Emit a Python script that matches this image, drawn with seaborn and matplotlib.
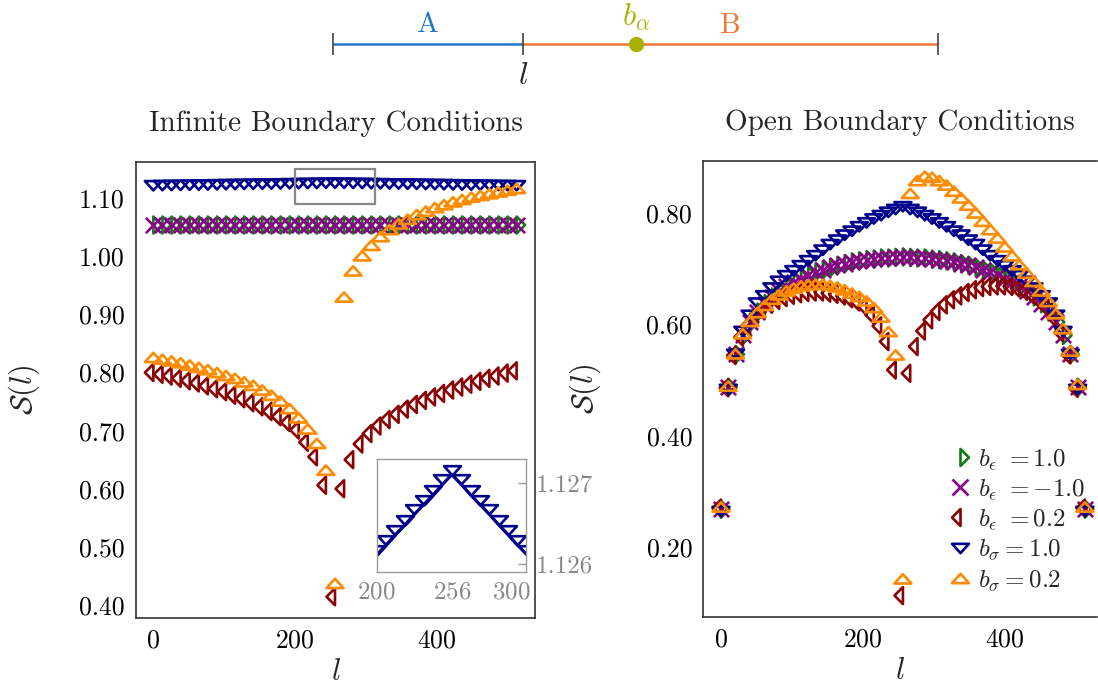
import matplotlib
matplotlib.use("Agg")
import matplotlib.pyplot as plt
from matplotlib.path import Path
from matplotlib.lines import Line2D
from matplotlib.patches import Rectangle
from matplotlib.ticker import FormatStrFormatter
import seaborn as sns

sns.set_theme(style="white")
plt.rcParams.update({
    "font.family": "serif",
    "font.serif": ["cmr10"],
    "mathtext.fontset": "cm",
    "axes.formatter.use_mathtext": True,
    "axes.unicode_minus": False,
})

# ---------------- data: infinite boundary conditions ----------------
l_inf = [0.0, 12.8, 25.6, 38.4, 51.2, 64.0, 76.8, 89.6, 102.4, 115.2, 128.0,
         140.8, 153.6, 166.4, 179.2, 192.0, 204.8, 217.6, 230.4, 243.2, 256.0,
         268.8, 281.6, 294.4, 307.2, 320.0, 332.8, 345.6, 358.4, 371.2, 384.0,
         396.8, 409.6, 422.4, 435.2, 448.0, 460.8, 473.6, 486.4, 499.2, 512.0]

eps_p1_inf = [1.054, 1.054, 1.054, 1.054, 1.054, 1.054, 1.054, 1.054, 1.054, 1.054, 1.054,
              1.054, 1.054, 1.054, 1.054, 1.054, 1.054, 1.054, 1.054, 1.054, 1.054,
              1.054, 1.054, 1.054, 1.054, 1.054, 1.054, 1.054, 1.054, 1.054, 1.054,
              1.054, 1.054, 1.054, 1.054, 1.054, 1.054, 1.054, 1.054, 1.054, 1.054]
eps_m1_inf = [1.054, 1.054, 1.054, 1.054, 1.054, 1.054, 1.054, 1.054, 1.054, 1.054, 1.054,
              1.054, 1.054, 1.054, 1.054, 1.054, 1.054, 1.054, 1.054, 1.054, 1.054,
              1.054, 1.054, 1.054, 1.054, 1.054, 1.054, 1.054, 1.054, 1.054, 1.054,
              1.054, 1.054, 1.054, 1.054, 1.054, 1.054, 1.054, 1.054, 1.054, 1.054]
eps_02_inf = [0.800, 0.797, 0.794, 0.790, 0.786, 0.782, 0.777, 0.772, 0.767, 0.761, 0.755,
              0.748, 0.741, 0.733, 0.724, 0.714, 0.701, 0.680, 0.655, 0.606, 0.414,
              0.600, 0.650, 0.677, 0.695, 0.708, 0.719, 0.728, 0.737, 0.745, 0.752,
              0.758, 0.764, 0.770, 0.775, 0.780, 0.785, 0.790, 0.794, 0.799, 0.803]
sig_1_inf = [1.1216, 1.1218, 1.1220, 1.1222, 1.1225, 1.1227, 1.1229, 1.1232, 1.1234, 1.1236, 1.1238,
             1.1241, 1.1243, 1.1245, 1.1247, 1.1250, 1.1252, 1.1254, 1.1256, 1.1259, 1.1261,
             1.1259, 1.1256, 1.1254, 1.1252, 1.1250, 1.1247, 1.1245, 1.1243, 1.1241, 1.1238,
             1.1236, 1.1234, 1.1232, 1.1229, 1.1227, 1.1225, 1.1222, 1.1220, 1.1218, 1.1216]
sig_02_inf = [0.826, 0.823, 0.820, 0.817, 0.813, 0.809, 0.805, 0.800, 0.795, 0.790, 0.784,
              0.778, 0.770, 0.761, 0.751, 0.738, 0.722, 0.703, 0.678, 0.632, 0.437,
              0.930, 0.975, 1.001, 1.019, 1.034, 1.046, 1.056, 1.064, 1.072, 1.078,
              1.084, 1.089, 1.094, 1.098, 1.102, 1.105, 1.108, 1.111, 1.114, 1.117]

# zoomed window around the defect (inset)
l_zoom = [200, 207, 214, 221, 228, 235, 242, 249, 256,
          263, 270, 277, 284, 291, 298, 305, 312]
sig_1_zoom = [1.12611, 1.12623, 1.12636, 1.12648, 1.12661, 1.12673, 1.12685, 1.12698, 1.12710,
              1.12698, 1.12685, 1.12673, 1.12661, 1.12648, 1.12636, 1.12623, 1.12611]

# ---------------- data: open boundary conditions ----------------
l_obc = [0.0, 10.24, 20.48, 30.72, 40.96, 51.2, 61.44, 71.68, 81.92, 92.16, 102.4,
         112.64, 122.88, 133.12, 143.36, 153.6, 163.84, 174.08, 184.32, 194.56, 204.8,
         215.04, 225.28, 235.52, 245.76, 256.0, 266.24, 276.48, 286.72, 296.96, 307.2,
         317.44, 327.68, 337.92, 348.16, 358.4, 368.64, 378.88, 389.12, 399.36, 409.6,
         419.84, 430.08, 440.32, 450.56, 460.8, 471.04, 481.28, 491.52, 501.76, 512.0]

eps_p1_obc = [0.268, 0.487, 0.546, 0.580, 0.604, 0.622, 0.637, 0.649, 0.659, 0.668, 0.676,
              0.682, 0.688, 0.694, 0.698, 0.702, 0.706, 0.709, 0.712, 0.714, 0.716,
              0.717, 0.719, 0.719, 0.720, 0.721, 0.720, 0.719, 0.719, 0.717, 0.716,
              0.714, 0.712, 0.709, 0.706, 0.702, 0.698, 0.694, 0.688, 0.682, 0.676,
              0.668, 0.659, 0.649, 0.637, 0.622, 0.604, 0.580, 0.546, 0.487, 0.268]
eps_m1_obc = [0.268, 0.487, 0.546, 0.580, 0.604, 0.622, 0.637, 0.649, 0.659, 0.668, 0.676,
              0.682, 0.688, 0.694, 0.698, 0.702, 0.706, 0.709, 0.712, 0.714, 0.716,
              0.717, 0.719, 0.719, 0.720, 0.721, 0.720, 0.719, 0.719, 0.717, 0.716,
              0.714, 0.712, 0.709, 0.706, 0.702, 0.698, 0.694, 0.688, 0.682, 0.676,
              0.668, 0.659, 0.649, 0.637, 0.622, 0.604, 0.580, 0.546, 0.487, 0.268]
eps_02_obc = [0.270, 0.486, 0.544, 0.577, 0.598, 0.614, 0.626, 0.636, 0.643, 0.648, 0.652,
              0.655, 0.657, 0.658, 0.658, 0.656, 0.654, 0.651, 0.646, 0.640, 0.632,
              0.617, 0.597, 0.569, 0.518, 0.113, 0.512, 0.560, 0.588, 0.608, 0.623,
              0.635, 0.644, 0.651, 0.657, 0.662, 0.666, 0.668, 0.669, 0.669, 0.668,
              0.665, 0.660, 0.653, 0.643, 0.630, 0.612, 0.585, 0.545, 0.485, 0.270]
sig_1_obc = [0.264, 0.483, 0.546, 0.587, 0.616, 0.638, 0.651, 0.665, 0.677, 0.687, 0.696,
             0.705, 0.714, 0.723, 0.733, 0.743, 0.751, 0.760, 0.767, 0.775, 0.782,
             0.789, 0.795, 0.801, 0.806, 0.811, 0.806, 0.801, 0.795, 0.789, 0.782,
             0.775, 0.767, 0.760, 0.751, 0.743, 0.733, 0.723, 0.714, 0.705, 0.696,
             0.687, 0.677, 0.665, 0.651, 0.638, 0.616, 0.587, 0.546, 0.483, 0.264]
sig_02_obc = [0.272, 0.489, 0.547, 0.583, 0.605, 0.621, 0.634, 0.645, 0.653, 0.660, 0.665,
              0.669, 0.671, 0.672, 0.672, 0.670, 0.667, 0.662, 0.656, 0.650, 0.642,
              0.630, 0.613, 0.587, 0.545, 0.143, 0.835, 0.858, 0.866, 0.864, 0.858,
              0.850, 0.839, 0.827, 0.814, 0.800, 0.785, 0.770, 0.755, 0.739, 0.723,
              0.707, 0.692, 0.677, 0.660, 0.641, 0.619, 0.592, 0.552, 0.492, 0.272]

labels = [r"$b_\epsilon\ = 1.0$", r"$b_\epsilon\ = -1.0$", r"$b_\epsilon\ = 0.2$",
          r"$b_\sigma = 1.0$", r"$b_\sigma = 0.2$"]

# sketch of the chain at the top
chain_len = 512
cut_site = 161
defect_site = 256

# ---------------- styles ----------------
GREEN, PURPLE, RED, NAVY, ORANGE = "#137a13", "#8b008b", "#8b0000", "#00008b", "#ff8c00"
C_A, C_B, C_DEF = "#2277c8", "#ee7733", "#aab000"

tri_up = Path([(0, 0.55), (-1, -0.55), (1, -0.55), (0, 0.55)], closed=True)
tri_down = Path([(0, -0.55), (-1, 0.55), (1, 0.55), (0, -0.55)], closed=True)
tri_left = Path([(0, 1), (0, -1), (-1, 0), (0, 1)], closed=True)
tri_right = Path([(0, 1), (0, -1), (1, 0), (0, 1)], closed=True)
tri_down_tip = Path([(0, 0), (-1, 1.1), (1, 1.1), (0, 0)], closed=True)

series_style = [
    (tri_right, GREEN, 12.2),
    ("x", PURPLE, 11.0),
    (tri_left, RED, 12.2),
    (tri_down, NAVY, 12.2),
    (tri_up, ORANGE, 12.2),
]
MEW = 1.9


def draw(ax, x, ys):
    for z, (y, (mk, col, ms)) in enumerate(zip(ys, series_style)):
        if mk == "x":
            sns.scatterplot(x=x, y=y, ax=ax, marker="x", s=ms ** 2, color=col,
                            linewidth=MEW, zorder=3 + z, legend=False)
        else:
            sns.scatterplot(x=x, y=y, ax=ax, marker=mk, s=ms ** 2, facecolor="none",
                            edgecolor=col, linewidth=MEW, zorder=3 + z, legend=False)


def style_axes(ax):
    for sp in ax.spines.values():
        sp.set_color("#333333")
        sp.set_linewidth(1.2)
    ax.tick_params(direction="in", length=7.5, width=1.0, labelsize=18.5, pad=8,
                   colors="#222222", labelcolor="black")
    ax.yaxis.set_major_formatter(FormatStrFormatter("%.2f"))
    ax.set_xticks([0, 200, 400])
    ax.set_xlabel(r"$l$", fontsize=22)
    ax.set_ylabel(r"$\mathcal{S}(l)$", fontsize=22)


fig = plt.figure(figsize=(10.98, 6.86), dpi=100)

# left panel
ax1 = fig.add_axes([0.1239, 0.0996, 0.3634, 0.6647])
draw(ax1, l_inf, [eps_p1_inf, eps_m1_inf, eps_02_inf, sig_1_inf, sig_02_inf])
ax1.set_xlim(-24.4, 538)
ax1.set_ylim(0.378, 1.163)
ax1.set_yticks([0.40, 0.50, 0.60, 0.70, 0.80, 0.90, 1.00, 1.10])
style_axes(ax1)
ax1.yaxis.set_label_coords(-0.235, 0.5)
ax1.xaxis.set_label_coords(0.5, -0.09)
ax1.set_title("Infinite Boundary Conditions", fontsize=21, pad=22)
ax1.add_patch(Rectangle((200, 1.091), 112, 0.059, fill=False, edgecolor="#888888",
                        linewidth=1.6, zorder=10))

# inset
ax_in = fig.add_axes([0.3431, 0.1666, 0.1360, 0.1638])
sns.lineplot(x=l_zoom, y=sig_1_zoom, ax=ax_in, color=NAVY, linewidth=2.2,
             marker=tri_down_tip, markersize=13.4, mfc="none", mec=NAVY, mew=MEW,
             sort=False)
ax_in.set_xlim(200, 311.4)
ax_in.set_ylim(1.12590, 1.12729)
ax_in.set_xticks([200, 256, 300])
ax_in.set_yticks([1.126, 1.127])
ax_in.yaxis.tick_right()
ax_in.yaxis.set_major_formatter(FormatStrFormatter("%.3f"))
for sp in ax_in.spines.values():
    sp.set_color("#999999")
    sp.set_linewidth(1.0)
ax_in.tick_params(direction="in", length=6, width=1.0, labelsize=18,
                  colors="#999999", labelcolor="#888888", pad=7)

# right panel
ax2 = fig.add_axes([0.6405, 0.1010, 0.3590, 0.6650])
draw(ax2, l_obc, [eps_p1_obc, eps_m1_obc, eps_02_obc, sig_1_obc, sig_02_obc])
ax2.set_xlim(-24.9, 529.7)
ax2.set_ylim(0.075, 0.894)
ax2.set_yticks([0.20, 0.40, 0.60, 0.80])
style_axes(ax2)
ax2.spines["right"].set_visible(False)
ax2.yaxis.set_label_coords(-0.255, 0.5)
ax2.xaxis.set_label_coords(0.5, -0.09)
ax2.set_title("Open Boundary Conditions", fontsize=21, pad=22)

handles = []
for mk, col, ms in series_style:
    if mk == "x":
        handles.append(Line2D([], [], ls="none", marker="x", ms=ms, color=col, mew=MEW))
    else:
        handles.append(Line2D([], [], ls="none", marker=mk, ms=ms, mfc="none",
                              mec=col, mew=MEW))
ax2.legend(handles, labels, loc="upper left", bbox_to_anchor=(0.855, 0.363),
           bbox_transform=fig.transFigure, frameon=False, fontsize=18,
           handlelength=0.9, handletextpad=0.25, labelspacing=0.22, borderaxespad=0)

# sketch of the bipartition
ax0 = fig.add_axes([0.3033, 0.8615, 0.5510, 0.1385])
ax0.set_xlim(0, chain_len)
ax0.set_ylim(95, 0)
ax0.axis("off")
ax0.plot([0, cut_site], [44, 44], color=C_A, lw=1.8, solid_capstyle="butt")
ax0.plot([cut_site, chain_len], [44, 44], color=C_B, lw=1.8, solid_capstyle="butt")
ax0.vlines([0, cut_site, chain_len], 33, 55, color="#333333", lw=1.1, clip_on=False)
ax0.plot([defect_site], [44], "o", ms=10, color=C_DEF, clip_on=False)
ax0.text(cut_site / 2, 25, "A", color=C_A, fontsize=21, ha="center", va="center")
ax0.text((cut_site + chain_len) / 2, 26, "B", color=C_B, fontsize=21, ha="center", va="center")
ax0.text(cut_site, 76, r"$l$", fontsize=23, ha="center", va="center")
ax0.text(defect_site, 17, r"$b_\alpha$", color=C_DEF, fontsize=22, ha="center", va="center")

fig.savefig("out.png", dpi=100)
